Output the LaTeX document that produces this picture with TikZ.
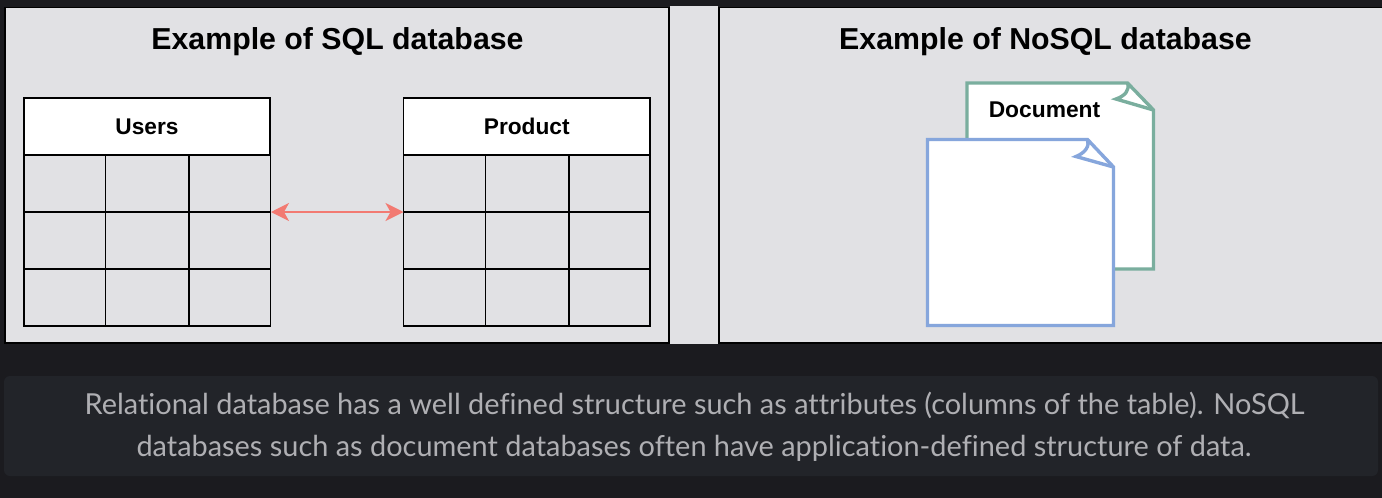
\documentclass[tikz,border=0pt]{standalone}
\usepackage{fontspec}
\setmainfont{Liberation Sans}
\newfontfamily\capfont[Ligatures=NoCommon]{Lato}
\definecolor{pagebg}{HTML}{1B1B1F}
\definecolor{capbg}{HTML}{222429}
\definecolor{captext}{HTML}{AFAFB3}
\definecolor{panelbg}{HTML}{E1E1E4}
\definecolor{docgreen}{HTML}{7AAE9E}
\definecolor{docblue}{HTML}{86A6DC}
\definecolor{arrowred}{HTML}{F27A72}
\usetikzlibrary{arrows.meta}
\tikzset{
  panel/.style={draw=black,line width=1.3pt,fill=panelbg},
  gridline/.style={draw=black,line width=1.9pt},
  headbox/.style={draw=black,line width=1.9pt,fill=white,minimum width=246.5pt,minimum height=57pt,inner sep=0pt,font=\bfseries\fontsize{22.7}{27}\selectfont,text=black},
  titletext/.style={font=\bfseries\fontsize{30.3}{36}\selectfont,text=black,inner sep=0pt,anchor=base},
  captext/.style={font=\capfont\fontsize{28.9}{34}\selectfont,text=captext,inner sep=0pt,anchor=base},
}
\begin{document}
\begin{tikzpicture}[x=1pt,y=-1pt]
\useasboundingbox (0,0) rectangle (1382,498);
\fill[pagebg] (0,0) rectangle (1382,498);
% panels
\fill[panelbg] (670,6) rectangle (718,344);
\path[panel] (5,7.5) rectangle (669,343);
\path[panel] (719,7.5) rectangle (1390,343);
\node[titletext] (sqltitle) at (337.5,49) {Example of SQL database};
\node[titletext] (nosqltitle) at (1045.5,49) {Example of NoSQL database};
% Users table
\node[headbox] (users) at (147,126.5) {Users};
\coordinate (uTL) at (24,155);
\coordinate (uBR) at (270.5,326);
\draw[gridline] (uTL) rectangle (uBR);
\draw[gridline] (24,212) -- (270.5,212) (24,269) -- (270.5,269) (105.5,155) -- (105.5,326) (189,155) -- (189,326);
% Product table
\node[headbox] (product) at (526.75,126.5) {Product};
\coordinate (pTL) at (403.5,155);
\coordinate (pBR) at (650,326);
\draw[gridline] (pTL) rectangle (pBR);
\draw[gridline] (403.5,212) -- (650,212) (403.5,269) -- (650,269) (485.5,155) -- (485.5,326) (569,155) -- (569,326);
% connector
\coordinate (ua) at (271,212);
\coordinate (pa) at (403.5,212);
\draw[arrowred,line width=1.6pt,{Stealth[length=18pt,width=18pt,inset=5pt]}-{Stealth[length=18pt,width=18pt,inset=5pt]}] (ua) -- (pa);
% green note
\draw[docgreen,line width=3.4pt,fill=white,miter limit=10] (967,83) -- (1127.5,83) -- (1153.5,110) -- (1153.5,269) -- (967,269) -- cycle;
\draw[docgreen,line width=3.4pt,line join=miter] (1127.5,83) .. controls (1130,90) and (1125,96) .. (1116,99) -- (1153.5,110);
\node[font=\bfseries\fontsize{22.8}{27}\selectfont,text=black,inner sep=0pt,anchor=base] (doc) at (1044.5,117) {Document};
% blue note
\draw[docblue,line width=3.4pt,fill=white] (927.5,139.5) -- (1087.5,139.5) -- (1113.5,167) -- (1113.5,325.5) -- (927.5,325.5) -- cycle;
\draw[docblue,line width=3.4pt] (1087.5,139.5) .. controls (1090,146) and (1085,153) .. (1076,156.5) -- (1113.5,167);
% caption
\fill[capbg,rounded corners=6pt] (4,376) rectangle (1378,476);
\node[captext] (cap1) at (694.5,414) {Relational database has a well defined structure such as attributes (columns of the table). NoSQL};
\node[captext] (cap2) at (694,456) {databases such as document databases often have application-defined structure of data.};
\end{tikzpicture}
\end{document}
